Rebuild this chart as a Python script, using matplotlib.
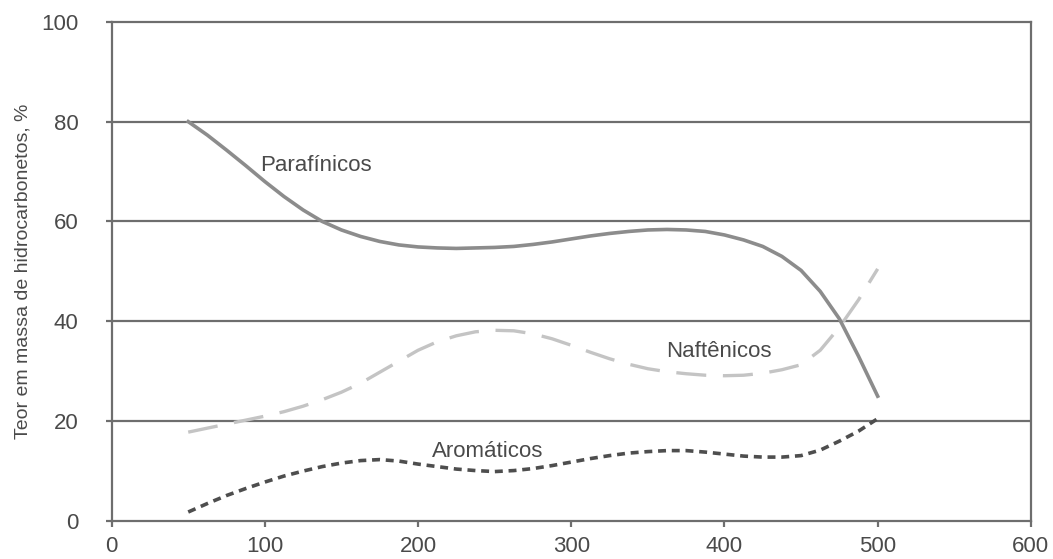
import matplotlib.pyplot as plt

plt.rcParams['font.family'] = ['Liberation Sans', 'DejaVu Sans']

# temperatura (eixo x) e teores em massa (%)
temp = [50, 62.5, 75, 87.5, 100, 112.5, 125, 137.5, 150, 162.5, 175, 187.5, 200,
        212.5, 225, 237.5, 250, 262.5, 275, 287.5, 300, 312.5, 325, 337.5, 350,
        362.5, 375, 387.5, 400, 412.5, 425, 437.5, 450, 462.5, 475, 487.5, 500]
parafinicos = [80, 77.3, 74.3, 71.2, 68, 65, 62.3, 60, 58.3, 57, 56, 55.3, 54.9,
               54.7, 54.6, 54.7, 54.8, 55, 55.4, 55.9, 56.5, 57.1, 57.6, 58, 58.3,
               58.4, 58.3, 58, 57.3, 56.3, 55, 53, 50.2, 46, 40.5, 33, 25]
naftenicos = [17.8, 18.6, 19.4, 20.2, 21, 21.9, 23, 24.3, 25.8, 27.6, 29.8, 32, 34.2,
              35.9, 37.1, 37.9, 38.2, 38.1, 37.5, 36.5, 35.2, 33.8, 32.5, 31.4, 30.5,
              29.9, 29.5, 29.2, 29.1, 29.2, 29.6, 30.3, 31.3, 34.2, 38.8, 44.3, 50.5]
aromaticos = [1.8, 3.5, 5.1, 6.5, 7.8, 9, 10, 10.9, 11.6, 12.1, 12.3, 12, 11.4,
              10.9, 10.4, 10.1, 9.9, 10.1, 10.5, 11.1, 11.8, 12.5, 13.1, 13.6, 13.9,
              14.1, 14.1, 13.8, 13.4, 13, 12.8, 12.8, 13.1, 14.2, 16, 18, 20.5]

fig = plt.figure(figsize=(10.53, 5.59), dpi=100)
ax = fig.add_axes([0.106, 0.068, 0.873, 0.893])

grid_c = '#6e6e6e'
txt_c = '#4a4a4a'
for yv in [20, 40, 60, 80]:
    ax.axhline(yv, color=grid_c, lw=1.6, zorder=1)

ax.plot(temp, parafinicos, color='#8c8c8c', lw=2.6, zorder=3)
ax.plot(temp, naftenicos, color='#c4c4c4', lw=2.4, dashes=(9, 5), zorder=3)
ax.plot(temp, aromaticos, color='#4e4e4e', lw=2.6, dashes=(2.2, 1.6), zorder=3)

ax.text(97, 71.2, 'Parafínicos', fontsize=16, color=txt_c, va='center')
ax.text(362, 34, 'Naftênicos', fontsize=16, color=txt_c, va='center')
ax.text(209, 14, 'Aromáticos', fontsize=16, color=txt_c, va='center')

ax.set_xlim(0, 600)
ax.set_ylim(0, 100)
ax.set_xticks(range(0, 601, 100))
ax.set_yticks(range(0, 101, 20))
for s in ax.spines.values():
    s.set_color(grid_c)
    s.set_linewidth(1.6)
ax.tick_params(colors=grid_c, width=1.6, length=4, labelsize=16, labelcolor=txt_c)
ax.tick_params(axis='y', pad=20)
ax.tick_params(axis='x', pad=7)
ax.set_ylabel('Teor em massa de hidrocarbonetos, %', fontsize=14, color=txt_c, labelpad=7)

fig.savefig('out.png', dpi=100)
